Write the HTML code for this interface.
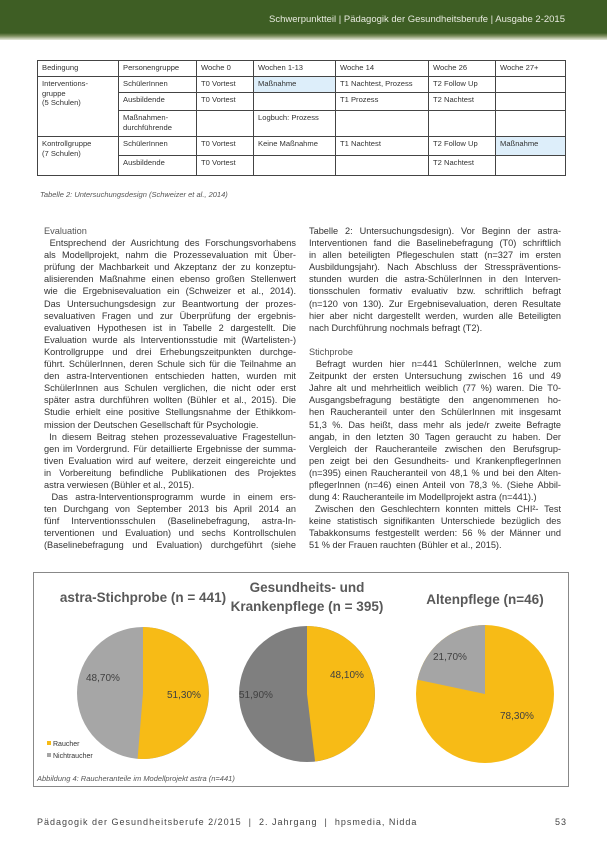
<!DOCTYPE html>
<html><head><meta charset="utf-8"><style>
*{margin:0;padding:0;box-sizing:border-box}
body{width:607px;height:853px;background:#fff;position:relative;overflow:hidden;font-family:"Liberation Sans",sans-serif;color:#333}
.hdr{position:absolute;left:0;top:0;width:607px;height:40px;background:linear-gradient(#3e5e24 0,#3e5e24 33px,#7d8f5e 36px,#e8ebdc 40px)}
.hdr span{position:absolute;right:42px;top:14px;font-size:9.5px;color:#e8eadf;white-space:nowrap}
table{position:absolute;left:37px;top:60px;border-collapse:collapse;font-size:7.6px;color:#333}
td{border:1px solid #444;padding:2px 4px;vertical-align:top;line-height:9.5px}
.bl{background:#ddeefa}
.cap{position:absolute;font-size:7.5px;font-style:italic;color:#555;white-space:nowrap}
.col{position:absolute;width:252px;font-size:9.2px;line-height:12.1px;color:#333}
.col div{text-align:justify;text-align-last:justify;white-space:nowrap;overflow:visible;height:12.1px}
.col div.l{text-align-last:left}
.col .h{text-align-last:left;color:#555}
.box{position:absolute;left:33px;top:572px;width:536px;height:215px;border:1px solid #888}
.ft{position:absolute;top:817px;font-size:9px;letter-spacing:1px;color:#444;white-space:nowrap}
</style></head><body>
<div class="hdr"><span>Schwerpunktteil | Pädagogik der Gesundheitsberufe | Ausgabe 2-2015</span></div>
<table>
<colgroup><col style="width:81px"><col style="width:78px"><col style="width:57px"><col style="width:82px"><col style="width:93px"><col style="width:67px"><col style="width:70px"></colgroup>
<tr style="height:16px"><td>Bedingung</td><td>Personengruppe</td><td>Woche 0</td><td>Wochen 1-13</td><td>Woche 14</td><td>Woche 26</td><td>Woche 27+</td></tr>
<tr style="height:16px"><td rowspan="3">Interventions-<br>gruppe<br>(5 Schulen)</td><td>SchülerInnen</td><td>T0 Vortest</td><td class="bl">Maßnahme</td><td>T1 Nachtest, Prozess</td><td>T2 Follow Up</td><td></td></tr>
<tr style="height:18px"><td>Ausbildende</td><td>T0 Vortest</td><td></td><td>T1 Prozess</td><td>T2 Nachtest</td><td></td></tr>
<tr style="height:26px"><td>Maßnahmen-<br>durchführende</td><td></td><td>Logbuch: Prozess</td><td></td><td></td><td></td></tr>
<tr style="height:19px"><td rowspan="2">Kontrollgruppe<br>(7 Schulen)</td><td>SchülerInnen</td><td>T0 Vortest</td><td>Keine Maßnahme</td><td>T1 Nachtest</td><td>T2 Follow Up</td><td class="bl">Maßnahme</td></tr>
<tr style="height:20px"><td>Ausbildende</td><td>T0 Vortest</td><td></td><td></td><td>T2 Nachtest</td><td></td></tr>
</table>
<div class="cap" style="left:40px;top:190px">Tabelle 2: Untersuchungsdesign (Schweizer et al., 2014)</div>

<div class="col" style="left:44px;top:225px">
<div class="h">Evaluation</div>
<div>&nbsp;Entsprechend der Ausrichtung des Forschungsvorhabens</div>
<div>als Modellprojekt, nahm die Prozessevaluation mit Über-</div>
<div>prüfung der Machbarkeit und Akzeptanz der zu konzeptu-</div>
<div>alisierenden Maßnahme einen ebenso großen Stellenwert</div>
<div>wie die Ergebnisevaluation ein (Schweizer et al., 2014).</div>
<div>Das Untersuchungsdesign zur Beantwortung der prozes-</div>
<div>sevaluativen Fragen und zur Überprüfung der ergebnis-</div>
<div>evaluativen Hypothesen ist in Tabelle 2 dargestellt. Die</div>
<div>Evaluation wurde als Interventionsstudie mit (Wartelisten-)</div>
<div>Kontrollgruppe und drei Erhebungszeitpunkten durchge-</div>
<div>führt. SchülerInnen, deren Schule sich für die Teilnahme an</div>
<div>den astra-Interventionen entschieden hatten, wurden mit</div>
<div>SchülerInnen aus Schulen verglichen, die nicht oder erst</div>
<div>später astra durchführen wollten (Bühler et al., 2015). Die</div>
<div>Studie erhielt eine positive Stellungsnahme der Ethikkom-</div>
<div class="l">mission der Deutschen Gesellschaft für Psychologie.</div>
<div>&nbsp;In diesem Beitrag stehen prozessevaluative Fragestellun-</div>
<div>gen im Vordergrund. Für detaillierte Ergebnisse der summa-</div>
<div>tiven Evaluation wird auf weitere, derzeit eingereichte und</div>
<div>in Vorbereitung befindliche Publikationen des Projektes</div>
<div class="l">astra verwiesen (Bühler et al., 2015).</div>
<div>&nbsp;Das astra-Interventionsprogramm wurde in einem ers-</div>
<div>ten Durchgang von September 2013 bis April 2014 an</div>
<div>fünf Interventionsschulen (Baselinebefragung, astra-In-</div>
<div>terventionen und Evaluation) und sechs Kontrollschulen</div>
<div>(Baselinebefragung und Evaluation) durchgeführt (siehe</div>
</div>

<div class="col" style="left:309px;top:225px">
<div>Tabelle 2: Untersuchungsdesign). Vor Beginn der astra-</div>
<div>Interventionen fand die Baselinebefragung (T0) schriftlich</div>
<div>in allen beteiligten Pflegeschulen statt (n=327 im ersten</div>
<div>Ausbildungsjahr). Nach Abschluss der Stresspräventions-</div>
<div>stunden wurden die astra-SchülerInnen in den Interven-</div>
<div>tionsschulen formativ evaluativ bzw. schriftlich befragt</div>
<div>(n=120 von 130). Zur Ergebnisevaluation, deren Resultate</div>
<div>hier aber nicht dargestellt werden, wurden alle Beteiligten</div>
<div class="l">nach Durchführung nochmals befragt (T2).</div>
<div class="l">&nbsp;</div>
<div class="h">Stichprobe</div>
<div>&nbsp;Befragt wurden hier n=441 SchülerInnen, welche zum</div>
<div>Zeitpunkt der ersten Untersuchung zwischen 16 und 49</div>
<div>Jahre alt und mehrheitlich weiblich (77 %) waren. Die T0-</div>
<div>Ausgangsbefragung bestätigte den angenommenen ho-</div>
<div>hen Raucheranteil unter den SchülerInnen mit insgesamt</div>
<div>51,3 %. Das heißt, dass mehr als jede/r zweite Befragte</div>
<div>angab, in den letzten 30 Tagen geraucht zu haben. Der</div>
<div>Vergleich der Raucheranteile zwischen den Berufsgrup-</div>
<div>pen zeigt bei den Gesundheits- und KrankenpflegerInnen</div>
<div>(n=395) einen Raucheranteil von 48,1 % und bei den Alten-</div>
<div>pflegerInnen (n=46) einen Anteil von 78,3 %. (Siehe Abbil-</div>
<div class="l">dung 4: Raucheranteile im Modellprojekt astra (n=441).)</div>
<div>&nbsp;Zwischen den Geschlechtern konnten mittels CHI²- Test</div>
<div>keine statistisch signifikanten Unterschiede bezüglich des</div>
<div>Tabakkonsums festgestellt werden: 56 % der Männer und</div>
<div class="l">51 % der Frauen rauchten (Bühler et al., 2015).</div>
</div>

<div class="box"></div>
<svg style="position:absolute;left:0;top:0" width="607" height="853" font-family="Liberation Sans,sans-serif">
<g font-weight="bold" fill="#595959" font-size="13.5" text-anchor="middle">
<text x="143" y="602">astra-Stichprobe (n = 441)</text>
<text x="307" y="592">Gesundheits- und</text>
<text x="307" y="611">Krankenpflege (n = 395)</text>
<text x="485" y="604">Altenpflege (n=46)</text>
</g>
<circle cx="143" cy="693" r="66" fill="#a6a6a6"/>
<path d="M143 693 L143 627 A66 66 0 1 1 137.6 758.8 Z" fill="#f7bb16"/>
<circle cx="307" cy="694" r="68" fill="#7f7f7f"/>
<path d="M307 694 L307 626 A68 68 0 0 1 315.1 761.5 Z" fill="#f7bb16"/>
<circle cx="485" cy="694" r="69" fill="#f7bb16"/>
<path d="M485 694 L417.5 679.7 A69 69 0 0 1 485 625 Z" fill="#a5a5a5"/>
<g font-size="10" fill="#404040">
<text x="86" y="681">48,70%</text>
<text x="167" y="698">51,30%</text>
<text x="330" y="678">48,10%</text>
<text x="239" y="698">51,90%</text>
<text x="433" y="660">21,70%</text>
<text x="500" y="719">78,30%</text>
</g>
<rect x="47" y="741" width="4" height="4" fill="#f7bb16"/>
<text x="53" y="746" font-size="7" fill="#333">Raucher</text>
<rect x="47" y="753" width="4" height="4" fill="#a6a6a6"/>
<text x="53" y="758" font-size="7" fill="#333">Nichtraucher</text>
</svg>
<div class="cap" style="left:37px;top:774px">Abbildung 4: Raucheranteile im Modellprojekt astra (n=441)</div>

<div class="ft" style="left:37px">Pädagogik der Gesundheitsberufe 2/2015 &nbsp;|&nbsp; 2. Jahrgang &nbsp;|&nbsp; hpsmedia, Nidda</div>
<div class="ft" style="left:555px">53</div>
</body></html>
